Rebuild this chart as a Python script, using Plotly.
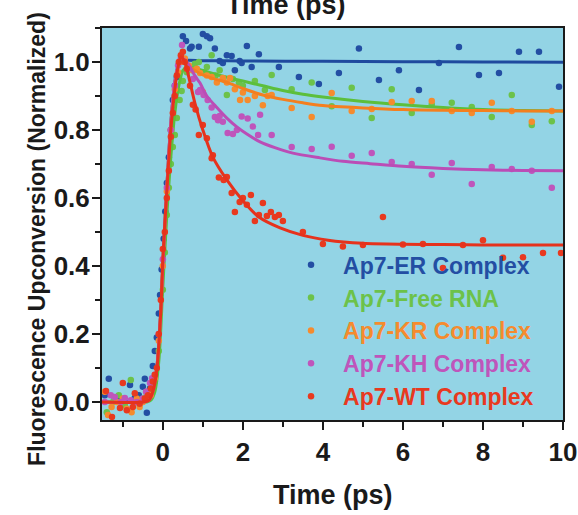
import plotly.graph_objects as go

# ---- measured points: time (ps) and normalized upconversion signal ----
er_t = [-1.45, -1.35, -1.2, -1.1, -0.95, -0.82, -0.7, -0.6, -0.5, -0.45, -0.4, -0.32,
        -0.25, -0.2, -0.15, -0.1, -0.07, -0.03, 0.02, 0.06, 0.1, 0.15, 0.2, 0.25, 0.3, 0.35,
        0.42, 0.5, 0.58, 0.68, 0.72, 0.9, 1.0, 1.1, 1.18, 1.3, 1.42, 1.5, 1.6, 1.72, 1.8,
        1.92, 1.97, 2.1, 2.22, 2.4, 2.9, 3.4, 3.9, 4.4, 4.9, 5.4, 5.9, 6.4, 6.9, 7.4, 7.9,
        8.4, 8.9, 9.4, 9.9]
er_y = [0.02, 0.068, 0.01, 0.009, 0.0, 0.05, 0.012, 0.02, 0.045, 0.068, -0.032, 0.04,
        0.106, 0.15, 0.19, 0.26, 0.315, 0.39, 0.48, 0.56, 0.644, 0.72, 0.8, 0.888, 0.93, 0.956,
        1.0, 1.076, 1.062, 1.04, 1.045, 1.045, 1.082, 1.076, 1.07, 1.04, 1.003, 0.997, 1.02,
        1.018, 0.976, 1.003, 0.997, 1.047, 0.985, 1.023, 0.985, 0.956, 0.935, 0.968, 1.04,
        0.947, 0.976, 0.918, 0.997, 1.044, 0.962, 0.968, 1.03, 1.03, 0.927]

rna_t = [-1.4, -1.25, -1.1, -0.95, -0.8, -0.65, -0.5, -0.4, -0.3, -0.2, -0.1, 0.0, 0.05,
         0.1, 0.15, 0.2, 0.25, 0.3, 0.35, 0.42, 0.47, 0.5, 0.6, 0.8, 0.9, 1.0, 1.1, 1.22,
         1.32, 1.42, 1.5, 1.6, 1.75, 1.9, 2.0, 2.3, 2.55, 2.72, 3.22, 3.72, 4.22, 4.72,
         5.22, 5.72, 6.22, 6.72, 7.22, 7.72, 8.22, 8.72, 9.22, 9.72]
rna_y = [-0.03, 0.0, 0.02, -0.01, 0.065, 0.0, 0.01, 0.02, 0.03, 0.06, 0.15, 0.33, 0.44,
         0.55, 0.63, 0.7, 0.75, 0.785, 0.835, 0.888, 0.915, 0.944, 0.97, 0.995, 1.0, 0.97,
         0.985, 1.02, 0.96, 0.976, 0.95, 0.903, 0.95, 0.94, 0.93, 0.944, 0.918, 0.962, 0.92,
         0.94, 0.87, 0.924, 0.835, 0.92, 0.85, 0.875, 0.88, 0.868, 0.838, 0.903, 0.815, 0.826]

kr_t = [-1.45, -1.37, -1.28, -1.15, -1.0, -0.9, -0.78, -0.65, -0.58, -0.5, -0.4, -0.3,
        -0.2, -0.1, 0.0, 0.1, 0.2, 0.3, 0.38, 0.45, 0.55, 0.65, 0.75, 0.85, 0.93, 1.0, 1.1,
        1.22, 1.35, 1.5, 1.6, 1.68, 1.8, 1.93, 2.0, 2.12, 2.3, 2.5, 2.62, 2.72, 3.22, 3.72,
        4.22, 4.72, 5.22, 5.72, 6.22, 6.72, 7.22, 7.72, 8.22, 8.72, 9.22, 9.72]
kr_y = [0.03, -0.038, -0.015, 0.0, 0.01, -0.02, -0.03, 0.01, -0.015, 0.0, 0.03, 0.02,
        0.07, 0.18, 0.4, 0.62, 0.8, 0.92, 0.97, 1.0, 1.01, 0.99, 0.975, 0.98, 0.968, 0.912,
        0.96, 0.956, 0.94, 0.953, 0.94, 0.953, 0.92, 0.888, 0.91, 0.888, 0.9, 0.873, 0.9,
        0.903, 0.865, 0.838, 0.909, 0.856, 0.862, 0.882, 0.885, 0.885, 0.856, 0.85, 0.88,
        0.856, 0.824, 0.856]

kh_t = [-1.45, -1.3, -1.2, -1.05, -0.95, -0.8, -0.65, -0.5, -0.42, -0.32, -0.27, -0.2,
        -0.1, 0.0, 0.1, 0.2, 0.3, 0.38, 0.45, 0.48, 0.55, 0.65, 0.75, 0.88, 0.93, 1.02, 1.12,
        1.22, 1.3, 1.38, 1.42, 1.5, 1.62, 1.75, 1.85, 1.97, 2.12, 2.25, 2.38, 2.43, 2.72,
        3.22, 3.72, 4.22, 4.72, 5.22, 5.72, 6.22, 6.72, 7.22, 7.72, 8.22, 8.72, 9.22, 9.72]
kh_y = [0.0, 0.02, 0.015, 0.0, 0.012, 0.005, 0.0, 0.01, 0.03, 0.056, 0.07, 0.08,
        0.2, 0.42, 0.63, 0.8, 0.93, 0.99, 1.01, 1.05, 1.0, 0.98, 0.95, 0.912, 0.918, 0.903,
        0.888, 0.866, 0.838, 0.829, 0.841, 0.824, 0.791, 0.788, 0.8, 0.84, 0.834, 0.81,
        0.785, 0.845, 0.785, 0.75, 0.744, 0.751, 0.724, 0.732, 0.706, 0.7, 0.668, 0.703,
        0.641, 0.691, 0.685, 0.68, 0.63]

wt_t = [-1.42, -1.27, -1.07, -1.0, -0.9, -0.75, -0.7, -0.58, -0.45, -0.37, -0.3, -0.25,
        -0.2, -0.15, -0.1, -0.05, 0.0, 0.05, 0.1, 0.15, 0.2, 0.25, 0.3, 0.35, 0.4, 0.45,
        0.5, 0.55, 0.6, 0.68, 0.75, 0.82, 0.9, 1.0, 1.1, 1.22, 1.25, 1.4, 1.52, 1.6, 1.72,
        1.8, 1.92, 2.0, 2.1, 2.2, 2.3, 2.4, 2.5, 2.6, 2.7, 2.8, 2.9, 3.0, 3.5, 4.0, 4.5,
        5.0, 5.5, 6.0, 6.5, 7.0, 7.5, 8.0, 8.5, 9.0, 9.5, 9.95]
wt_y = [0.032, -0.044, -0.018, 0.056, -0.024, -0.015, 0.026, -0.005, 0.01, 0.02, 0.04,
        0.06, 0.08, 0.1, 0.2, 0.3, 0.45, 0.5, 0.6, 0.68, 0.78, 0.85, 0.9, 0.96, 1.0, 1.02,
        1.03, 1.0, 0.98, 0.93, 0.874, 0.86, 0.785, 0.815, 0.776, 0.717, 0.726, 0.66, 0.653,
        0.662, 0.615, 0.559, 0.588, 0.6, 0.58, 0.609, 0.532, 0.55, 0.585, 0.547, 0.559,
        0.544, 0.55, 0.532, 0.5, 0.465, 0.457, 0.462, 0.544, 0.463, 0.465, 0.394, 0.462,
        0.476, 0.424, 0.426, 0.438, 0.438]

# ---- fitted kinetic traces (time, value) ----
er_fit_t = [-1.52, -0.5, -0.35, -0.25, -0.15, -0.05, 0.0, 0.1, 0.2, 0.3, 0.4, 0.5, 1.0,
            2.0, 4.0, 6.0, 8.0, 10.0]
er_fit_y = [0.0, 0.0, 0.005, 0.03, 0.1, 0.27, 0.4, 0.63, 0.82, 0.94, 0.995, 1.004, 1.004,
            1.003, 1.002, 1.001, 1.0, 0.999]

rna_fit_t = [-1.52, -0.4, -0.3, -0.2, -0.1, 0.0, 0.1, 0.2, 0.3, 0.4, 0.5, 0.6, 0.8, 1.0,
             1.5, 2.0, 2.5, 3.0, 3.5, 4.0, 5.0, 6.0, 7.0, 8.0, 9.0, 10.0]
rna_fit_y = [0.0, 0.0, 0.005, 0.03, 0.12, 0.34, 0.55, 0.72, 0.85, 0.93, 0.975, 0.985,
             0.982, 0.975, 0.958, 0.944, 0.93, 0.916, 0.905, 0.897, 0.884, 0.874, 0.866,
             0.86, 0.857, 0.856]

kr_fit_t = [-1.52, -0.5, -0.35, -0.25, -0.15, -0.05, 0.0, 0.1, 0.2, 0.3, 0.4, 0.47, 0.6,
            0.8, 1.0, 1.25, 1.6, 2.0, 2.5, 3.0, 3.5, 4.0, 5.0, 6.0, 7.0, 8.0, 9.0, 10.0]
kr_fit_y = [0.0, 0.0, 0.005, 0.03, 0.1, 0.27, 0.4, 0.63, 0.82, 0.94, 0.99, 1.0, 0.99,
            0.975, 0.962, 0.952, 0.94, 0.922, 0.903, 0.89, 0.88, 0.872, 0.865, 0.86, 0.858,
            0.857, 0.856, 0.856]

kh_fit_t = [-1.52, -0.5, -0.35, -0.25, -0.15, -0.05, 0.0, 0.1, 0.2, 0.3, 0.4, 0.5, 0.6,
            0.8, 0.93, 1.1, 1.35, 1.6, 1.85, 2.1, 2.43, 2.8, 3.25, 3.93, 4.5, 5.18, 6.0,
            7.0, 8.0, 9.0, 10.0]
kh_fit_y = [0.0, 0.0, 0.005, 0.03, 0.1, 0.27, 0.4, 0.63, 0.82, 0.94, 0.995, 1.01, 1.0,
            0.96, 0.938, 0.9, 0.866, 0.835, 0.809, 0.788, 0.765, 0.748, 0.732, 0.718, 0.708,
            0.701, 0.693, 0.687, 0.683, 0.681, 0.68]

wt_fit_t = [-1.52, -0.5, -0.35, -0.25, -0.15, -0.05, 0.0, 0.1, 0.2, 0.3, 0.38, 0.45,
            0.55, 0.65, 0.8, 1.0, 1.25, 1.6, 2.0, 2.4, 2.93, 3.5, 4.13, 5.0, 6.0, 7.0,
            8.0, 10.0]
wt_fit_y = [0.0, 0.0, 0.005, 0.03, 0.094, 0.27, 0.42, 0.62, 0.8, 0.92, 0.985, 1.015,
            1.0, 0.955, 0.88, 0.8, 0.72, 0.653, 0.592, 0.544, 0.512, 0.49, 0.476, 0.467,
            0.464, 0.463, 0.462, 0.462]

series = [
    ("Ap7-ER Complex", er_t, er_y, er_fit_t, er_fit_y, "#234ea3", "#1f4a9e"),
    ("Ap7-Free RNA", rna_t, rna_y, rna_fit_t, rna_fit_y, "#6cc24a", "#5cbf3c"),
    ("Ap7-KR Complex", kr_t, kr_y, kr_fit_t, kr_fit_y, "#f58b2e", "#f47f1f"),
    ("Ap7-KH Complex", kh_t, kh_y, kh_fit_t, kh_fit_y, "#bf55bb", "#bb4db6"),
    ("Ap7-WT Complex", wt_t, wt_y, wt_fit_t, wt_fit_y, "#e8391f", "#e6321c"),
]

FONT = "Liberation Sans, Arial, sans-serif"
INK = "#1a1a1a"

fig = go.Figure()
for name, t, y, ft, fy, pc, lc in series:
    fig.add_trace(go.Scatter(
        x=t, y=y, mode="markers", name=f"<span style='color:{pc}'>{name}</span>",
        marker=dict(color=pc, size=6.5),
    ))
    fig.add_trace(go.Scatter(
        x=ft, y=fy, mode="lines", showlegend=False, hoverinfo="skip",
        line=dict(color=lc, width=3, shape="spline", smoothing=0.8),
    ))

axis_common = dict(
    showgrid=False, zeroline=False, showline=True, linecolor=INK, linewidth=2,
    mirror=True, ticks="outside", ticklen=8, tickwidth=2, tickcolor=INK,
    automargin=False,
    tickfont=dict(family=FONT, size=26, color=INK, weight="bold"),
)

fig.update_xaxes(
    range=[-1.52, 10], tick0=0, dtick=2,
    minor=dict(dtick=1, ticks="outside", ticklen=5, tickwidth=2, tickcolor=INK),
    **axis_common,
)
fig.update_yaxes(
    range=[-0.053, 1.1], tick0=0, dtick=0.2, tickformat=".1f", ticklabelstandoff=-3,
    minor=dict(dtick=0.1, ticks="outside", ticklen=5, tickwidth=2, tickcolor=INK),
    **axis_common,
)

fig.update_layout(
    width=578, height=515,
    margin=dict(l=102, r=15, t=28, b=95),
    plot_bgcolor="#93d4e5", paper_bgcolor="white",
    legend=dict(
        x=0.384, y=0.451, xanchor="left", yanchor="top",
        bgcolor="rgba(0,0,0,0)", borderwidth=0,
        font=dict(family=FONT, size=23, weight="bold"),
        itemwidth=54, tracegroupgap=0,
    ),
    annotations=[
        dict(text="Time (ps)", xref="paper", yref="paper", x=0.5, y=-0.192,
             xanchor="center", yanchor="middle", showarrow=False,
             font=dict(family=FONT, size=27, color=INK, weight="bold")),
        dict(text="Fluorescence Upconversion (Normalized)", xref="paper", yref="paper",
             x=-0.141, y=0.462, xanchor="center", yanchor="middle", textangle=-90,
             showarrow=False,
             font=dict(family=FONT, size=23, color=INK, weight="bold")),
        dict(text="Time (ps)", xref="paper", yref="paper", x=0.4, y=1.0,
             xanchor="center", yanchor="bottom", yshift=6, showarrow=False,
             font=dict(family=FONT, size=27, color=INK, weight="bold")),
    ],
)

fig.write_html("out.html")
